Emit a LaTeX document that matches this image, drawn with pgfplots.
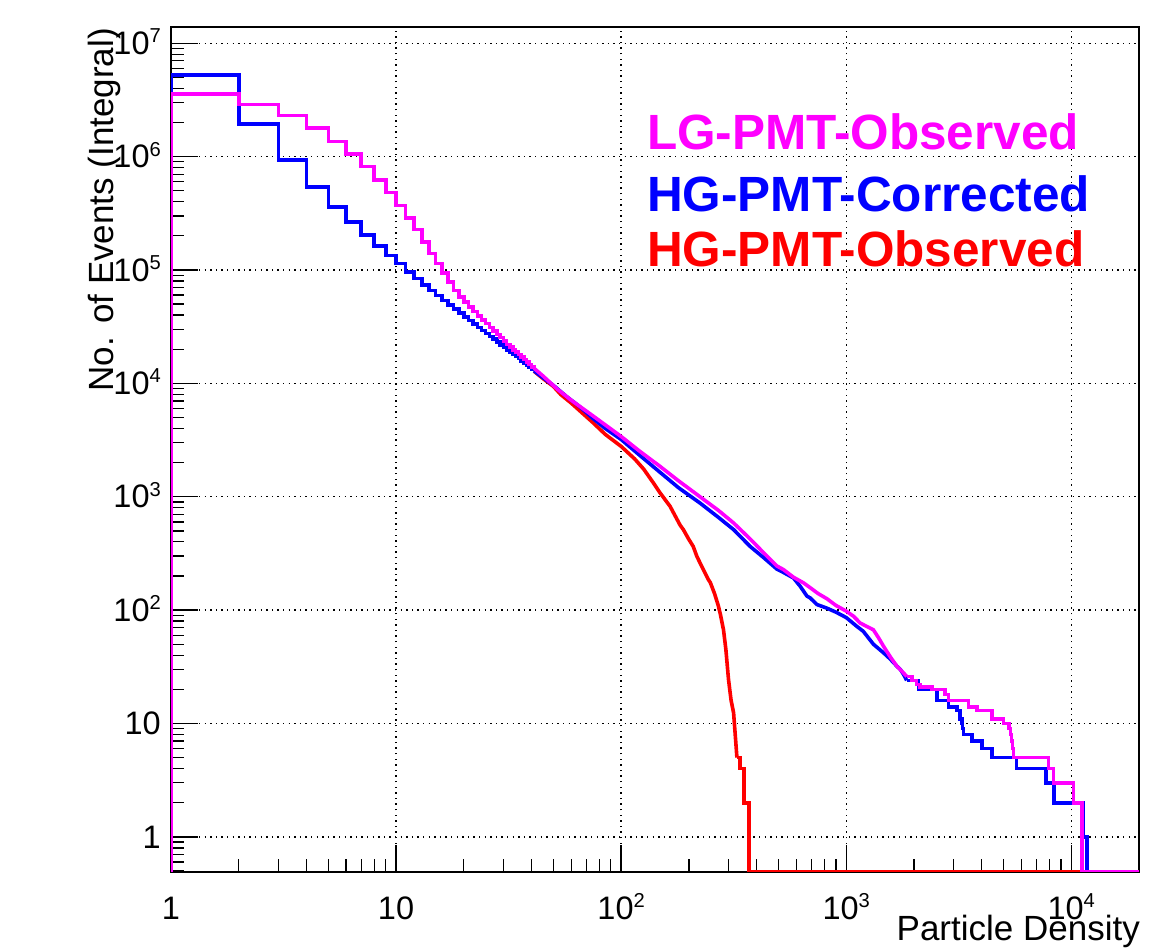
\documentclass[border=0pt]{standalone}
\usepackage{fontspec}
\setmainfont{Liberation Sans}
\usepackage{graphicx}
\usepackage{pgfplots}
\pgfplotsset{compat=1.18}
\definecolor{rmag}{RGB}{255,0,255}
\definecolor{rblue}{RGB}{0,0,255}
\definecolor{rred}{RGB}{255,0,0}
\newcommand{\ep}[1]{10\smash{\raisebox{0.36em}{\scalebox{0.62}{#1}}}}
\begin{document}
\begin{tikzpicture}
\useasboundingbox (0,0) rectangle (1154bp,948bp);
\begin{axis}[
  at={(171bp,76bp)}, anchor=south west,
  scale only axis, width=968bp, height=845bp,
  xmode=log, ymode=log,
  xmin=1, xmax=20000, ymin=0.49, ymax=1.39e7,
  axis line style={line width=1.4bp},
  tick pos=left, tick align=inside,
  major tick length=27bp, minor tick length=13bp,
  tick style={black, line width=1.3bp},
  xtick={1,10,100,1000,10000},
  xticklabels={1,10,\ep{2},\ep{3},\ep{4}},
  ytick={1,10,100,1000,10000,100000,1000000,10000000},
  yticklabels={1,10,\ep{2},\ep{3},\ep{4},\ep{5},\ep{6},\ep{7}},
  minor xtick={2,3,4,5,6,7,8,9,20,30,40,50,60,70,80,90,200,300,400,500,600,700,800,900,2000,3000,4000,5000,6000,7000,8000,9000,20000},
  minor ytick={0.5,0.6,0.7,0.8,0.9,2,3,4,5,6,7,8,9,20,30,40,50,60,70,80,90,200,300,400,500,600,700,800,900,2000,3000,4000,5000,6000,7000,8000,9000,2e4,3e4,4e4,5e4,6e4,7e4,8e4,9e4,2e5,3e5,4e5,5e5,6e5,7e5,8e5,9e5,2e6,3e6,4e6,5e6,6e6,7e6,8e6,9e6},
  grid=major,
  major grid style={black, line width=1.3bp, dash pattern=on 1.3bp off 4.3bp},
  tick label style={font=\fontsize{32.5bp}{39bp}\selectfont},
  xticklabel style={anchor=north, inner sep=0pt, yshift=-24.5bp},
  yticklabel style={anchor=east, inner sep=0pt, xshift=-10bp},
]
% ---------------- HG-PMT-Observed (red) ----------------
\addplot[rred, line width=3.6bp, const plot] coordinates {
(0.9,0.49)(1,5.27e6)(2,1.95e6)(3,9.3e5)(4,5.4e5)(5,3.6e5)(6,2.65e5)(7,2.03e5)(8,1.62e5)(9,1.34e5)
(10,1.14e5)(11,9.6e4)(12,8.4e4)(13,7.4e4)(14,6.6e4)(15,5.95e4)(16,5.4e4)(17,4.93e4)(18,4.52e4)(19,4.17e4)
(20,3.86e4)(21,3.58e4)(22,3.34e4)(23,3.12e4)(24,2.93e4)(25,2.75e4)(26,2.59e4)(27,2.45e4)(28,2.32e4)(29,2.19e4)
(30,2.08e4)(31,1.98e4)(32,1.89e4)(33,1.80e4)(34,1.72e4)(35,1.65e4)(36,1.58e4)(37,1.51e4)(38,1.45e4)(39,1.40e4)
(40,1.34e4)(41,1.28e4)};
\addplot[rred, line width=3.6bp] coordinates {
(41,1.28e4)(45,1.1e4)(50,9.4e3)(54,7.95e3)(60,6.7e3)(67,5.5e3)(75,4.5e3)(85,3.55e3)(100,2.78e3)(115,2.15e3)
(126,1.75e3)(140,1.3e3)(149,1.08e3)(165,823)(183,560)(189,513)(200,420)(209,365)(217,298)(230,235)
(244,186)(249,175)(260,140)(270,110)(276,92)(285,67)(292,45)(300,24.4)(308,16)(316,12.4)(327,5)};
\addplot[rred, line width=3.6bp, const plot] coordinates {
(327,5)(338,4)(352,2)(370.5,0.49)(20000,0.49)};
% ---------------- HG-PMT-Corrected (blue) ----------------
\addplot[rblue, line width=3.6bp, const plot] coordinates {
(0.9,0.49)(1,5.27e6)(2,1.95e6)(3,9.3e5)(4,5.4e5)(5,3.6e5)(6,2.65e5)(7,2.03e5)(8,1.62e5)(9,1.34e5)
(10,1.14e5)(11,9.6e4)(12,8.4e4)(13,7.4e4)(14,6.6e4)(15,5.95e4)(16,5.4e4)(17,4.93e4)(18,4.52e4)(19,4.17e4)
(20,3.86e4)(21,3.58e4)(22,3.34e4)(23,3.12e4)(24,2.93e4)(25,2.75e4)(26,2.59e4)(27,2.45e4)(28,2.32e4)(29,2.19e4)
(30,2.08e4)(31,1.98e4)(32,1.89e4)(33,1.80e4)(34,1.72e4)(35,1.65e4)(36,1.58e4)(37,1.51e4)(38,1.45e4)(39,1.40e4)
(40,1.34e4)(41,1.29e4)};
\addplot[rblue, line width=3.6bp] coordinates {
(41,1.29e4)(45,1.12e4)(50,9.6e3)(57,7.7e3)(65,6.3e3)(75,4.9e3)(85,4.0e3)(100,3.2e3)(120,2.35e3)(149,1.64e3)
(180,1.2e3)(224,880)(270,660)(316,513)(374,365)(430,290)(492,230)(526,215)(583,192)(625,162)
(669,133)(692,128)(741,112)(821,104)(900,96)(1000,86)(1114,72)(1191,65)(1321,50)(1465,42)
(1569,37)(1680,32)(1740,30)(1800,27)(1857,24)};
\addplot[rblue, line width=3.6bp, const plot] coordinates {
(1857,24)(2096,20)(2530,16)(2850,14)(3104,13)(3213,11)(3260,10)(3290,9)(3323,8)(3620,7)
(4010,6)(4440,5)(5700,4)(7740,3)(8400,2)(11350,1)(11740,0.49)(20000,0.49)};
% ---------------- LG-PMT-Observed (magenta) ----------------
\addplot[rmag, line width=3.6bp, const plot] coordinates {
(0.9,0.49)(1,3.56e6)(2,2.87e6)(3,2.30e6)(4,1.79e6)(5,1.36e6)(6,1.06e6)(7,8.2e5)(8,6.25e5)(9,4.83e5)
(10,3.69e5)(11,2.87e5)(12,2.27e5)(13,1.76e5)(14,1.40e5)(15,1.14e5)(16,9.4e4)(17,7.8e4)(18,6.6e4)(19,5.8e4)
(20,5.2e4)(21,4.7e4)(22,4.3e4)(23,3.95e4)(24,3.63e4)(25,3.36e4)(26,3.12e4)(27,2.9e4)(28,2.7e4)(29,2.53e4)
(30,2.35e4)(31,2.21e4)(32,2.09e4)(33,1.98e4)(34,1.88e4)(35,1.79e4)(36,1.70e4)(37,1.62e4)(38,1.54e4)(39,1.47e4)
(40,1.40e4)(41,1.36e4)};
\addplot[rmag, line width=3.6bp] coordinates {
(41,1.36e4)(45,1.16e4)(52,8.9e3)(60,7.1e3)(70,5.7e3)(80,4.7e3)(100,3.4e3)(120,2.55e3)(149,1.85e3)(180,1.38e3)
(224,1.0e3)(270,760)(316,587)(374,425)(430,320)(492,245)(526,228)(583,195)(646,174)(700,155)
(750,140)(821,126)(900,110)(1000,98)(1080,88)(1153,77)(1230,72)(1321,67)(1400,56)(1465,48)
(1580,38)(1680,32)(1795,28)(1857,26)};
\addplot[rmag, line width=3.6bp, const plot] coordinates {
(1857,26)(1960,24)(2050,22)(2132,21)(2400,20)(2754,18)(2850,16)(3500,14)(3810,13)(4440,11)
(5000,10)(5280,9)(5360,8)(5420,7)(5480,6)(5530,5)(7930,4)(8340,3)(10230,2)(11150,0.49)(20000,0.49)};
\end{axis}
\node[rotate=90, anchor=base east, inner sep=0pt, font=\fontsize{35bp}{42bp}\selectfont] at (113bp,920bp) {No. of Events (Integral)};
\node[anchor=base east, inner sep=0pt, font=\fontsize{35bp}{42bp}\selectfont] at (1140bp,8bp) {Particle Density};
\node[anchor=base west, inner sep=0pt, text=rmag, font=\fontsize{49.5bp}{59bp}\selectfont\bfseries] at (647bp,798.7bp) {LG-PMT-Observed};
\node[anchor=base west, inner sep=0pt, text=rblue, font=\fontsize{49.5bp}{59bp}\selectfont\bfseries] at (647bp,736.3bp) {HG-PMT-Corrected};
\node[anchor=base west, inner sep=0pt, text=rred, font=\fontsize{49.5bp}{59bp}\selectfont\bfseries] at (647bp,681.3bp) {HG-PMT-Observed};
\end{tikzpicture}
\end{document}
